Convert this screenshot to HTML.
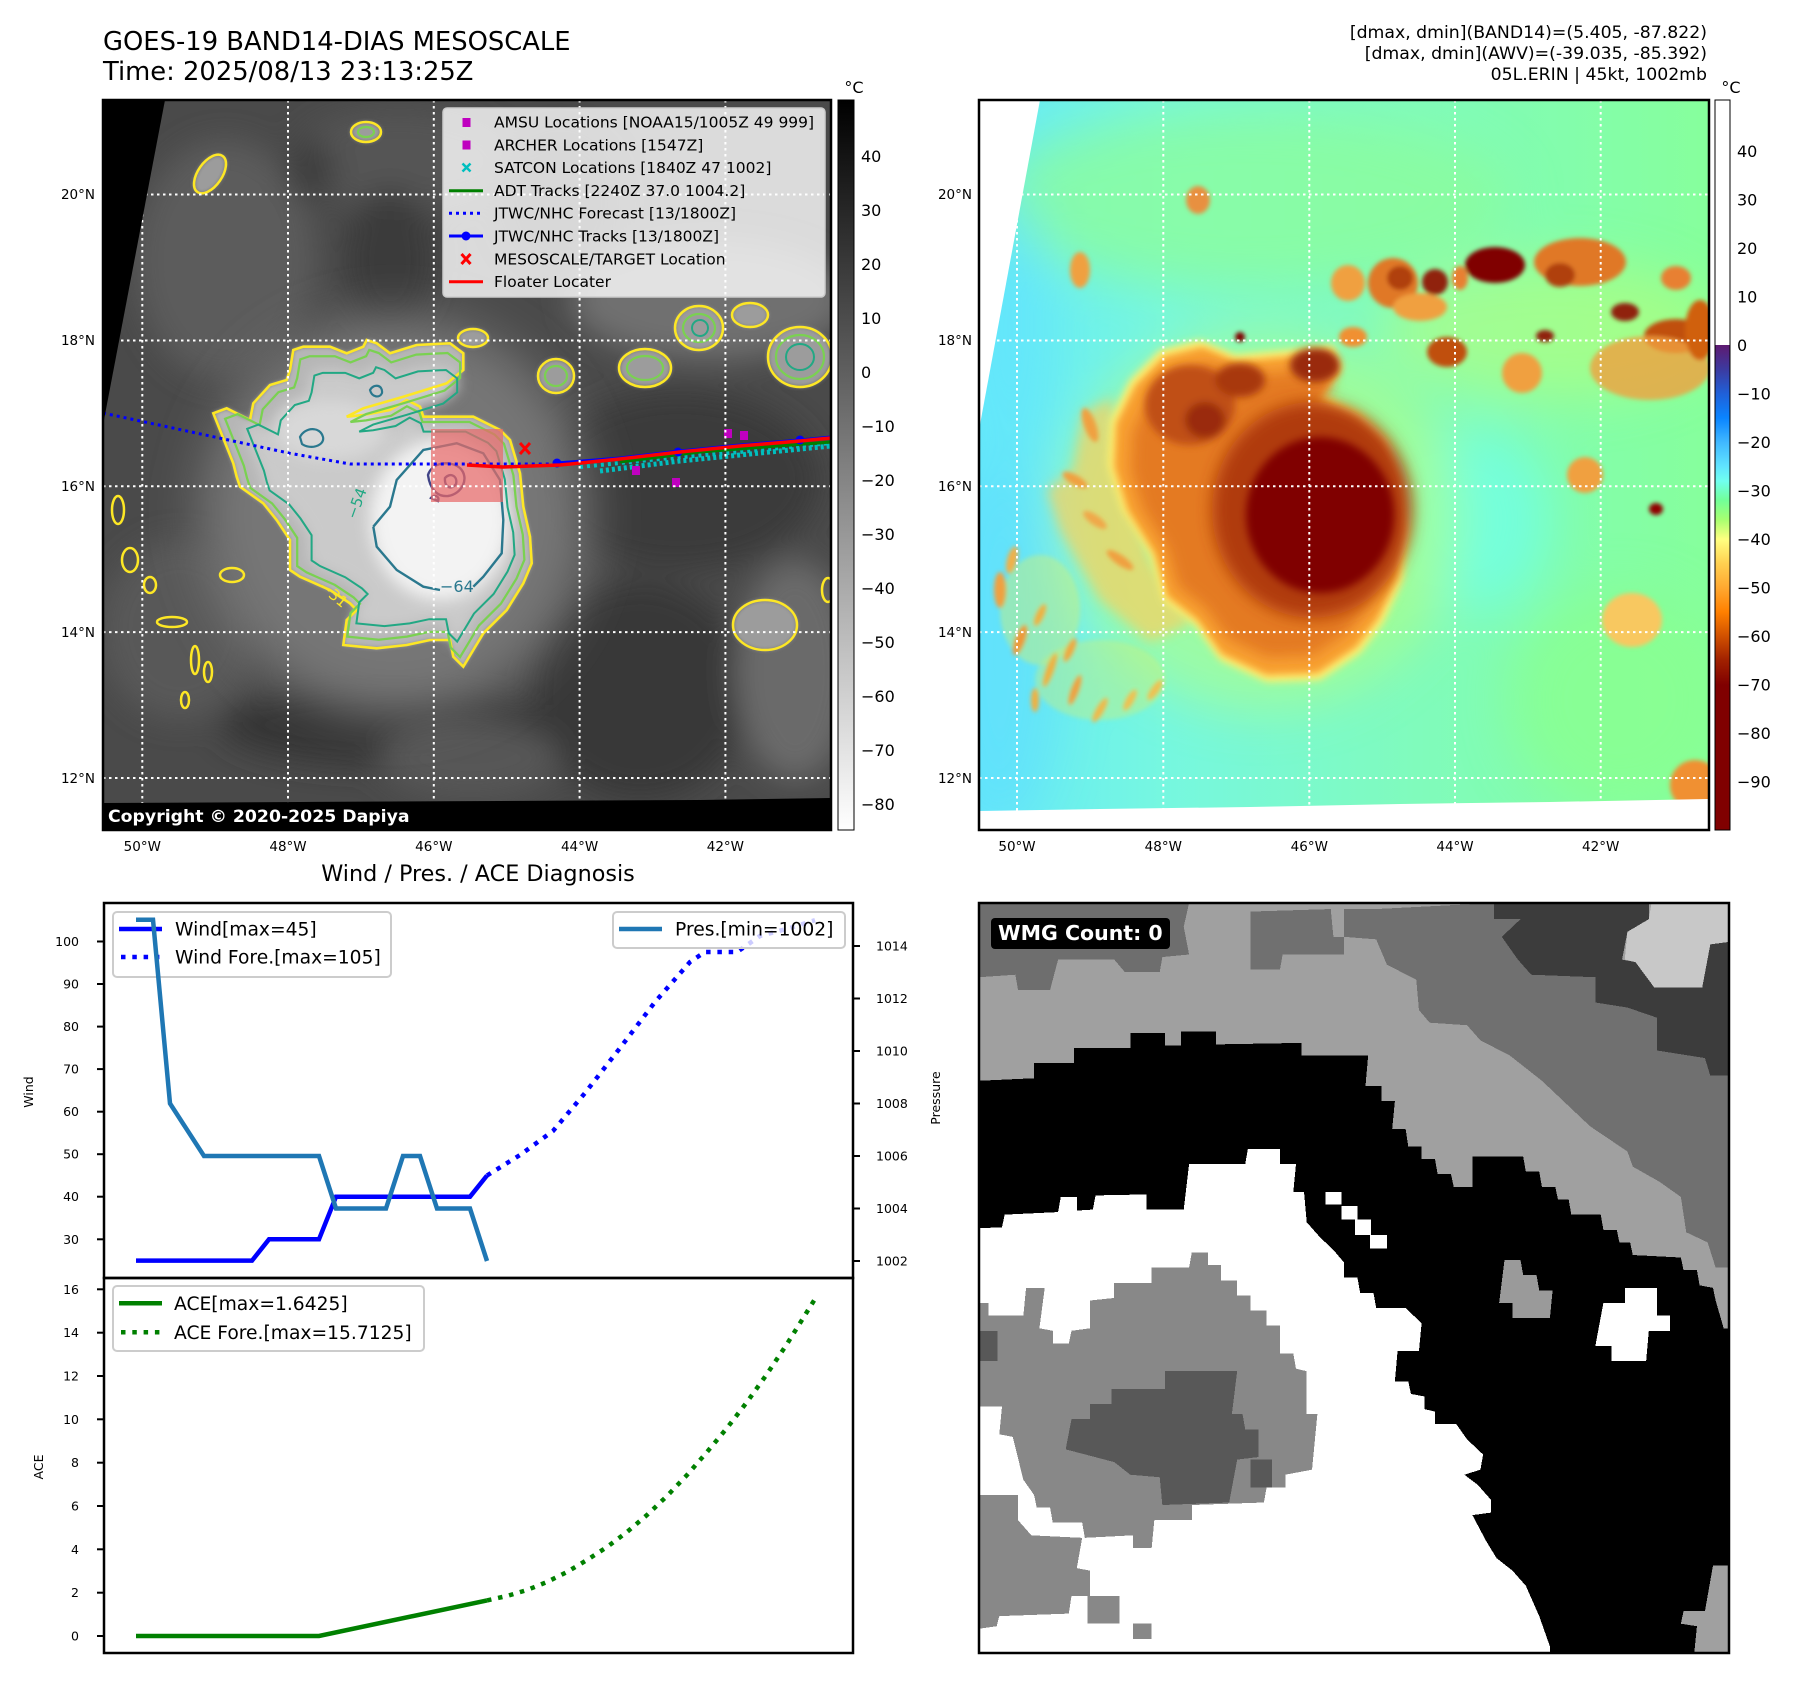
<!DOCTYPE html>
<html><head><meta charset="utf-8"><style>
html,body{margin:0;padding:0;background:#fff;}
svg{display:block;font-family:"DejaVu Sans","Liberation Sans",sans-serif;}
</style></head><body>
<svg width="1797" height="1690" viewBox="0 0 1797 1690">
<defs>
<filter id="b2" x="-50%" y="-50%" width="200%" height="200%"><feGaussianBlur stdDeviation="2"/></filter>
<filter id="b4" x="-50%" y="-50%" width="200%" height="200%"><feGaussianBlur stdDeviation="4"/></filter>
<filter id="b6" x="-50%" y="-50%" width="200%" height="200%"><feGaussianBlur stdDeviation="6"/></filter>
<filter id="b8" x="-50%" y="-50%" width="200%" height="200%"><feGaussianBlur stdDeviation="8"/></filter>
<filter id="b15" x="-50%" y="-50%" width="200%" height="200%"><feGaussianBlur stdDeviation="15"/></filter>
<filter id="b25" x="-50%" y="-50%" width="200%" height="200%"><feGaussianBlur stdDeviation="25"/></filter>
<clipPath id="cpL"><rect x="103" y="100" width="728" height="730"/></clipPath>
<clipPath id="cpR"><rect x="979" y="100" width="730" height="730"/></clipPath>
<linearGradient id="cbL" x1="0" y1="0" x2="0" y2="1"><stop offset="0" stop-color="#000"/><stop offset="1" stop-color="#fff"/></linearGradient>
<linearGradient id="cbR" x1="0" y1="0" x2="0" y2="1">
<stop offset="0" stop-color="#fff"/><stop offset="0.3355" stop-color="#fff"/>
<stop offset="0.3356" stop-color="#5e1a70"/><stop offset="0.3689" stop-color="#3c3aa0"/>
<stop offset="0.4022" stop-color="#2060d8"/><stop offset="0.4355" stop-color="#0a84ff"/>
<stop offset="0.4687" stop-color="#40b8ff"/><stop offset="0.5019" stop-color="#60e4ff"/>
<stop offset="0.5219" stop-color="#70fff0"/><stop offset="0.5485" stop-color="#72ff98"/>
<stop offset="0.5752" stop-color="#a8ff70"/><stop offset="0.6018" stop-color="#ffff80"/>
<stop offset="0.6351" stop-color="#ffd050"/><stop offset="0.6684" stop-color="#ffa830"/>
<stop offset="0.7015" stop-color="#ff8000"/><stop offset="0.7348" stop-color="#d05000"/>
<stop offset="0.7681" stop-color="#a02000"/><stop offset="0.8014" stop-color="#800000"/>
<stop offset="1" stop-color="#800000"/></linearGradient>
<linearGradient id="bgR" x1="0" y1="0" x2="1" y2="0">
<stop offset="0" stop-color="#66eaf8"/><stop offset="0.25" stop-color="#76f7e0"/>
<stop offset="0.6" stop-color="#80fbbc"/><stop offset="1" stop-color="#86ff9c"/></linearGradient>
<path id="stormL" d="M233.3,463.3 L213.3,413.3 L226.7,408.3 L250,420 L253.3,403.3 L270,385 L286.7,380 L290,370 L293.3,350 L303.3,346.7 L330,346.7 L346.7,353.3 L363.3,346.7 L366.7,340 L376.7,343.3 L390,353.3 L416.7,345 L450,343.3 L463.3,353.3 L463.3,370 L446.7,383.3 L403.3,396.7 L363.3,408.3 L346.7,416.7 L363.3,415 L390,410 L406.7,400 L420,406.7 L423.3,416.7 L473.3,416.7 L500,430 L510,440 L520,473.3 L523.3,506.7 L530,536.7 L531.7,563.3 L523.3,583.3 L506.7,610 L483.3,633.3 L473.3,650 L463.3,666.7 L453.3,656.7 L450,640 L430,640 L406.7,645 L376.7,648.3 L343.3,645 L346.7,620 L356.7,610 L350,603.3 L330,590 L300,576.7 L290,570 L290,540 L276.7,520 L263.3,503.3 L240,486.7 L236.7,476.7 Z"/>
<path id="stormR" d="M1110,420 L1130,380 L1160,350 L1200,340 L1235,355 L1290,350 L1333,345 L1343,367 L1320,393 L1360,413 L1387,440 L1400,480 L1408,530 L1403,580 L1383,623 L1360,653 L1320,680 L1267,682 L1220,660 L1195,625 L1163,600 L1150,555 L1122,510 L1108,465 Z"/>
</defs>
<rect width="1797" height="1690" fill="#fff"/>

<!-- Titles -->
<text x="103" y="50" font-size="25.8" fill="#000">GOES-19 BAND14-DIAS MESOSCALE</text>
<text x="103" y="80" font-size="25.8" fill="#000">Time: 2025/08/13 23:13:25Z</text>
<g font-size="17.3" text-anchor="end" fill="#000">
<text x="1707" y="38">[dmax, dmin](BAND14)=(5.405, -87.822)</text>
<text x="1707" y="59">[dmax, dmin](AWV)=(-39.035, -85.392)</text>
<text x="1707" y="80">05L.ERIN | 45kt, 1002mb</text>
</g>

<!-- ============ LEFT MAP ============ -->
<g clip-path="url(#cpL)">
<rect x="103" y="100" width="728" height="730" fill="#4a4a4a"/>
<g filter="url(#b15)">
<ellipse cx="225" cy="260" rx="90" ry="120" fill="#5c5c5c"/>
<ellipse cx="400" cy="160" rx="110" ry="50" fill="#555"/>
<ellipse cx="390" cy="260" rx="45" ry="70" fill="#3a3a3a"/>
<ellipse cx="310" cy="170" rx="25" ry="30" fill="#3c3c3c"/>
<ellipse cx="560" cy="200" rx="60" ry="70" fill="#3e3e3e"/>
<ellipse cx="680" cy="480" rx="140" ry="90" fill="#3a3a3a"/>
<ellipse cx="640" cy="690" rx="110" ry="110" fill="#393939"/>
<ellipse cx="795" cy="670" rx="60" ry="110" fill="#6a6a6a"/>
<ellipse cx="180" cy="630" rx="80" ry="90" fill="#595959"/>
<ellipse cx="380" cy="725" rx="160" ry="40" fill="#353535"/>
<ellipse cx="470" cy="760" rx="90" ry="40" fill="#575757"/>
<ellipse cx="710" cy="300" rx="140" ry="60" fill="#707070"/>
</g>
<ellipse cx="395" cy="515" rx="195" ry="200" fill="#767676" filter="url(#b25)"/>
<!-- NE band clouds -->
<g filter="url(#b2)" fill="#9c9c9c">
<ellipse cx="556" cy="376" rx="18" ry="17"/>
<ellipse cx="645" cy="368" rx="26" ry="19"/>
<ellipse cx="699" cy="328" rx="24" ry="22"/>
<ellipse cx="750" cy="315" rx="18" ry="12"/>
<ellipse cx="800" cy="357" rx="32" ry="30"/>
<ellipse cx="473" cy="338" rx="15" ry="9"/>
<ellipse cx="765" cy="625" rx="32" ry="25"/>
<ellipse cx="210" cy="174" rx="12" ry="22" transform="rotate(35 210 174)"/>
<ellipse cx="366" cy="132" rx="15" ry="10"/>
</g>
<g fill="none" stroke="#fde725" stroke-width="2.5">
<ellipse cx="556" cy="376" rx="18" ry="17"/>
<ellipse cx="645" cy="368" rx="26" ry="19"/>
<ellipse cx="699" cy="328" rx="24" ry="22"/>
<ellipse cx="750" cy="315" rx="18" ry="12"/>
<ellipse cx="800" cy="357" rx="32" ry="30"/>
<ellipse cx="473" cy="338" rx="15" ry="9"/>
<ellipse cx="765" cy="625" rx="32" ry="25"/>
<ellipse cx="210" cy="174" rx="12" ry="22" transform="rotate(35 210 174)"/>
<ellipse cx="366" cy="132" rx="15" ry="10"/>
<ellipse cx="130" cy="560" rx="8" ry="12"/>
<ellipse cx="172" cy="622" rx="15" ry="5"/>
<ellipse cx="195" cy="660" rx="4" ry="14"/>
<ellipse cx="208" cy="672" rx="4" ry="10"/>
<ellipse cx="150" cy="585" rx="6" ry="8"/>
<ellipse cx="118" cy="510" rx="6" ry="14"/>
<ellipse cx="185" cy="700" rx="4" ry="8"/>
<ellipse cx="232" cy="575" rx="12" ry="7"/>
<ellipse cx="828" cy="590" rx="6" ry="12"/>
</g>
<g fill="none" stroke="#7ad151" stroke-width="2.2">
<ellipse cx="556" cy="376" rx="11" ry="10"/>
<ellipse cx="645" cy="368" rx="18" ry="12"/>
<ellipse cx="699" cy="328" rx="16" ry="14"/>
<ellipse cx="800" cy="357" rx="24" ry="22"/>
<ellipse cx="366" cy="132" rx="8" ry="5"/>
</g>
<g fill="none" stroke="#22a884" stroke-width="2">
<ellipse cx="700" cy="328" rx="8" ry="8"/>
<ellipse cx="800" cy="357" rx="14" ry="13"/>
</g>
<!-- storm -->
<use href="#stormL" fill="#b6b6b6" filter="url(#b2)"/>
<use href="#stormL" fill="#cacaca" filter="url(#b8)" transform="translate(420 510) scale(0.86) translate(-420 -510)"/>
<ellipse cx="330" cy="430" rx="55" ry="30" fill="#d8d8d8" filter="url(#b8)"/>
<ellipse cx="440" cy="520" rx="70" ry="80" fill="#f3f3f3" filter="url(#b8)"/>
<use href="#stormL" fill="none" stroke="#fde725" stroke-width="2.6"/>
<use href="#stormL" fill="none" stroke="#7ad151" stroke-width="2.4" transform="translate(410 505) scale(0.94) translate(-410 -505)"/>
<use href="#stormL" fill="none" stroke="#22a884" stroke-width="2.4" transform="translate(425 510) scale(0.84) translate(-425 -510)"/>
<path d="M373.3,526.7 L390,506.7 L396.7,480 L423.3,450 L456.7,443.3 L483.3,453.3 L500,480 L503.3,520 L501.7,553.3 L483.3,576.7 L473.3,586.7 M440,590 L423.3,586.7 L396.7,570 L376.7,546.7 L373.3,526.7" fill="none" stroke="#2a788e" stroke-width="2.4"/>
<path d="M300,437 C305,427 320,426 323,437 C325,446 310,450 302,444 Z M370,390 C374,383 383,385 382,393 C380,398 372,398 370,390 Z" fill="none" stroke="#2a788e" stroke-width="2.2"/>
<path d="M428,475 C432,462 450,460 460,468 C470,478 462,494 448,496 C438,497 430,490 428,475 Z M445,478 C450,472 458,476 456,484 C452,490 444,488 445,478 Z M431,498 C434,494 440,496 438,501 Z" fill="none" stroke="#414487" stroke-width="2.4"/>
<text x="440" y="592" font-size="16" fill="#2a788e">−64</text>
<text x="0" y="0" font-size="15" fill="#fde725" transform="translate(318 588) rotate(40)">−31</text>
<text x="0" y="0" font-size="15" fill="#22a884" transform="translate(356 520) rotate(-70)">−54</text>
<!-- pink box -->
<rect x="431" y="429" width="72" height="73" fill="#e86a6a" fill-opacity="0.72"/>
<!-- tracks -->
<polyline points="103,413 190,431.7 290,453.3 350,464 560,464" fill="none" stroke="#0000ff" stroke-width="3" stroke-dasharray="3 4"/>
<polyline points="600,471 680,461 760,453 831,446" fill="none" stroke="#00bfbf" stroke-width="5" stroke-dasharray="3 3"/>
<polyline points="580,467 660,459 740,452 831,443" fill="none" stroke="#00bfbf" stroke-width="4" stroke-dasharray="3 4"/>
<polyline points="620,462 700,452 831,442" fill="none" stroke="#008000" stroke-width="3"/>
<polyline points="557,463 620,458 680,451 740,445 800,440 831,437" fill="none" stroke="#0000ff" stroke-width="3"/>
<circle cx="557" cy="463" r="4.5" fill="#0000ff"/><circle cx="678" cy="452" r="4.5" fill="#0000ff"/><circle cx="800" cy="440" r="4.5" fill="#0000ff"/>
<polyline points="467,465 503,467 560,465 620,459 680,452 740,446 800,441 831,438" fill="none" stroke="#ff0000" stroke-width="3.5"/>
<g fill="#bf00bf"><rect x="724" y="429" width="8" height="9"/><rect x="740" y="431" width="8" height="9"/><rect x="632" y="466" width="8" height="9"/><rect x="672" y="478" width="8" height="9"/></g>
<path d="M520,443 L530,454 M530,443 L520,454" stroke="#ff0000" stroke-width="3"/>
<!-- gridlines -->
<g stroke="#fff" stroke-width="2" stroke-dasharray="2.5 3.5">
<line x1="103" y1="194.5" x2="831" y2="194.5"/><line x1="103" y1="340.5" x2="831" y2="340.5"/>
<line x1="103" y1="486.3" x2="831" y2="486.3"/><line x1="103" y1="632.1" x2="831" y2="632.1"/>
<line x1="103" y1="778" x2="831" y2="778"/>
<line x1="142.3" y1="100" x2="142.3" y2="830"/><line x1="288" y1="100" x2="288" y2="830"/>
<line x1="433.8" y1="100" x2="433.8" y2="830"/><line x1="579.6" y1="100" x2="579.6" y2="830"/>
<line x1="725.4" y1="100" x2="725.4" y2="830"/>
</g>
<polygon points="103,100 165,100 103,425" fill="#000"/>
<polygon points="103,803 300,802 500,801 700,800 831,798 831,830 103,830" fill="#000"/>
</g>
<rect x="103" y="803" width="307" height="27" fill="#000"/>
<text x="108" y="822" font-size="17.3" font-weight="bold" fill="#fff">Copyright © 2020-2025 Dapiya</text>
<rect x="103" y="100" width="728" height="730" fill="none" stroke="#000" stroke-width="2.5"/>
<!-- legend -->
<rect x="443" y="108" width="382" height="189" rx="4" fill="#fff" fill-opacity="0.8" stroke="#cccccc" stroke-width="1.5"/>
<g font-size="15.5" fill="#000">
<text x="494" y="127.5">AMSU Locations [NOAA15/1005Z 49 999]</text>
<text x="494" y="150.3">ARCHER Locations [1547Z]</text>
<text x="494" y="173">SATCON Locations [1840Z 47 1002]</text>
<text x="494" y="196">ADT Tracks [2240Z 37.0 1004.2]</text>
<text x="494" y="218.6">JTWC/NHC Forecast [13/1800Z]</text>
<text x="494" y="241.3">JTWC/NHC Tracks [13/1800Z]</text>
<text x="494" y="264.3">MESOSCALE/TARGET Location</text>
<text x="494" y="287">Floater Locater</text>
</g>
<rect x="462.5" y="118" width="8" height="9" fill="#bf00bf"/>
<rect x="462.5" y="140.5" width="8" height="9" fill="#bf00bf"/>
<path d="M462.5,163.5 L470.5,171.5 M470.5,163.5 L462.5,171.5" stroke="#00bfbf" stroke-width="2.5"/>
<line x1="449" y1="190.7" x2="483" y2="190.7" stroke="#008000" stroke-width="3"/>
<line x1="449" y1="213.3" x2="483" y2="213.3" stroke="#0000ff" stroke-width="3" stroke-dasharray="3 4"/>
<line x1="449" y1="236" x2="483" y2="236" stroke="#0000ff" stroke-width="3"/><circle cx="466" cy="236" r="4.5" fill="#0000ff"/>
<path d="M461.5,254 L470.5,264 M470.5,254 L461.5,264" stroke="#ff0000" stroke-width="3"/>
<line x1="449" y1="281.7" x2="483" y2="281.7" stroke="#ff0000" stroke-width="3"/>
<!-- left map tick labels -->
<g font-size="13.5" fill="#000" text-anchor="end">
<text x="95" y="199">20°N</text><text x="95" y="345">18°N</text><text x="95" y="491">16°N</text><text x="95" y="637">14°N</text><text x="95" y="783">12°N</text>
</g>
<g font-size="13.5" fill="#000" text-anchor="middle">
<text x="142.3" y="851">50°W</text><text x="288" y="851">48°W</text><text x="433.8" y="851">46°W</text><text x="579.6" y="851">44°W</text><text x="725.4" y="851">42°W</text>
</g>
<!-- left colorbar -->
<rect x="838" y="100" width="16" height="730" fill="url(#cbL)" stroke="#000" stroke-width="1"/>
<text x="854" y="93" font-size="16" text-anchor="middle">°C</text>
<g font-size="16" fill="#000">
<text x="861" y="162">40</text><text x="861" y="216">30</text><text x="861" y="270">20</text><text x="861" y="324">10</text><text x="861" y="378">0</text>
<text x="861" y="432">−10</text><text x="861" y="486">−20</text><text x="861" y="540">−30</text><text x="861" y="594">−40</text><text x="861" y="648">−50</text>
<text x="861" y="702">−60</text><text x="861" y="756">−70</text><text x="861" y="810">−80</text>
</g>

<!-- ============ RIGHT MAP ============ -->
<g clip-path="url(#cpR)">
<rect x="979" y="100" width="730" height="730" fill="url(#bgR)"/>
<g filter="url(#b25)">
<ellipse cx="1250" cy="200" rx="260" ry="90" fill="#8cfc9c" opacity="0.8"/>
<ellipse cx="1000" cy="640" rx="60" ry="190" fill="#5edcff" opacity="0.6"/>
<ellipse cx="1010" cy="330" rx="40" ry="140" fill="#60e2ff" opacity="0.6"/>
<ellipse cx="1620" cy="700" rx="110" ry="110" fill="#8aff90" opacity="0.8"/>
<ellipse cx="1480" cy="520" rx="70" ry="90" fill="#70ffe6" opacity="0.8"/>
<ellipse cx="1260" cy="520" rx="200" ry="190" fill="#c0ff70" opacity="0.5"/>
<ellipse cx="1550" cy="330" rx="170" ry="70" fill="#c0ff70" opacity="0.5"/>
</g>
<!-- SW streaks -->
<g filter="url(#b2)">
<ellipse cx="1040" cy="610" rx="40" ry="55" fill="#d0f070" opacity="0.45"/>
<ellipse cx="1100" cy="680" rx="65" ry="40" fill="#d0f070" opacity="0.4"/>
<ellipse cx="1000" cy="590" rx="6" ry="18" fill="#f0a040"/>
<ellipse cx="1012" cy="560" rx="5" ry="14" fill="#f0b048" transform="rotate(15 1012 560)"/>
<ellipse cx="1020" cy="640" rx="5" ry="16" fill="#f09838" transform="rotate(20 1020 640)"/>
<ellipse cx="1040" cy="615" rx="4" ry="12" fill="#f0b040" transform="rotate(25 1040 615)"/>
<ellipse cx="1050" cy="670" rx="4" ry="18" fill="#f0b040" transform="rotate(20 1050 670)"/>
<ellipse cx="1075" cy="690" rx="4" ry="16" fill="#f0a040" transform="rotate(20 1075 690)"/>
<ellipse cx="1100" cy="710" rx="4" ry="14" fill="#f0b848" transform="rotate(30 1100 710)"/>
<ellipse cx="1035" cy="700" rx="4" ry="12" fill="#f0b040"/>
<ellipse cx="1130" cy="700" rx="4" ry="12" fill="#f0c050" transform="rotate(30 1130 700)"/>
<ellipse cx="1155" cy="690" rx="4" ry="12" fill="#f0c050" transform="rotate(35 1155 690)"/>
<ellipse cx="1070" cy="650" rx="4" ry="13" fill="#f0a840" transform="rotate(25 1070 650)"/>
<ellipse cx="1632" cy="620" rx="30" ry="27" fill="#f8c860"/>
<ellipse cx="1585" cy="475" rx="18" ry="18" fill="#f0a040"/>
<ellipse cx="1656" cy="509" rx="7" ry="6" fill="#900000"/>
<ellipse cx="1695" cy="785" rx="25" ry="25" fill="#f09030"/>
</g>
<!-- storm -->
<polygon points="1083,413 1112,398 1122,470 1150,560 1192,622 1150,642 1100,600 1060,530 1047,490 1073,470" fill="#f8d060" opacity="0.7" filter="url(#b6)"/>
<g filter="url(#b2)">
<ellipse cx="1090" cy="425" rx="6" ry="18" fill="#f0a040" transform="rotate(-20 1090 425)"/>
<ellipse cx="1075" cy="480" rx="14" ry="5" fill="#f0a040" transform="rotate(30 1075 480)"/>
<ellipse cx="1095" cy="520" rx="14" ry="5" fill="#f0a848" transform="rotate(35 1095 520)"/>
<ellipse cx="1120" cy="560" rx="16" ry="5" fill="#f0a040" transform="rotate(35 1120 560)"/>
</g>
<use href="#stormR" fill="#fff070" filter="url(#b4)"/>
<use href="#stormR" fill="#f8a030" filter="url(#b4)" transform="translate(1260 510) scale(0.96) translate(-1260 -510)"/>
<use href="#stormR" fill="#e47a20" filter="url(#b8)" transform="translate(1270 505) scale(0.86) translate(-1270 -505)"/>
<g filter="url(#b4)">
<ellipse cx="1190" cy="405" rx="45" ry="40" fill="#c05018"/>
<ellipse cx="1205" cy="420" rx="20" ry="18" fill="#9a2a08"/>
<ellipse cx="1240" cy="380" rx="25" ry="17" fill="#a83810"/>
<ellipse cx="1315" cy="365" rx="25" ry="17" fill="#9a2a08"/>
</g>
<ellipse cx="1312" cy="510" rx="100" ry="108" fill="#b03a08" filter="url(#b8)"/>
<ellipse cx="1320" cy="515" rx="74" ry="78" fill="#800000" filter="url(#b4)"/>
<!-- NE band -->
<g filter="url(#b2)">
<ellipse cx="1348" cy="283" rx="17" ry="18" fill="#f0a040"/>
<ellipse cx="1393" cy="283" rx="25" ry="25" fill="#e07828"/>
<ellipse cx="1400" cy="278" rx="13" ry="12" fill="#b04010"/>
<ellipse cx="1435" cy="282" rx="13" ry="13" fill="#902010"/>
<ellipse cx="1460" cy="278" rx="8" ry="12" fill="#e88030"/>
<ellipse cx="1495" cy="265" rx="30" ry="18" fill="#800000"/>
<ellipse cx="1420" cy="307" rx="27" ry="14" fill="#f0a040"/>
<ellipse cx="1447" cy="352" rx="20" ry="15" fill="#c05010"/>
<ellipse cx="1353" cy="337" rx="14" ry="10" fill="#f09030"/>
<ellipse cx="1580" cy="262" rx="46" ry="24" fill="#e07828"/>
<ellipse cx="1560" cy="275" rx="15" ry="12" fill="#b04010"/>
<ellipse cx="1676" cy="278" rx="15" ry="12" fill="#e88030"/>
<ellipse cx="1625" cy="312" rx="14" ry="9" fill="#902010"/>
<ellipse cx="1676" cy="336" rx="32" ry="17" fill="#c05010"/>
<ellipse cx="1545" cy="336" rx="9" ry="6" fill="#902010"/>
<ellipse cx="1650" cy="368" rx="60" ry="32" fill="#f0a040" opacity="0.8"/>
<ellipse cx="1522" cy="373" rx="20" ry="20" fill="#f0a040"/>
<ellipse cx="1700" cy="330" rx="15" ry="30" fill="#d06010"/>
<ellipse cx="1240" cy="337" rx="5" ry="5" fill="#800000"/>
<ellipse cx="1198" cy="200" rx="12" ry="14" fill="#e89040"/>
<ellipse cx="1080" cy="270" rx="10" ry="18" fill="#f0a040"/>
</g>
<g stroke="#fff" stroke-width="2" stroke-dasharray="2.5 3.5">
<line x1="979" y1="194.5" x2="1709" y2="194.5"/><line x1="979" y1="340.5" x2="1709" y2="340.5"/>
<line x1="979" y1="486.3" x2="1709" y2="486.3"/><line x1="979" y1="632.1" x2="1709" y2="632.1"/>
<line x1="979" y1="778" x2="1709" y2="778"/>
<line x1="1017" y1="100" x2="1017" y2="830"/><line x1="1163.3" y1="100" x2="1163.3" y2="830"/>
<line x1="1309.3" y1="100" x2="1309.3" y2="830"/><line x1="1455" y1="100" x2="1455" y2="830"/>
<line x1="1600.7" y1="100" x2="1600.7" y2="830"/>
</g>
<polygon points="979,100 1040,100 979,430" fill="#fff"/>
<polygon points="979,811 1100,809 1250,807 1400,804 1550,802 1709,799 1709,830 979,830" fill="#fff"/>
</g>
<rect x="979" y="100" width="730" height="730" fill="none" stroke="#000" stroke-width="2.5"/>
<g font-size="13.5" fill="#000" text-anchor="end">
<text x="972" y="199">20°N</text><text x="972" y="345">18°N</text><text x="972" y="491">16°N</text><text x="972" y="637">14°N</text><text x="972" y="783">12°N</text>
</g>
<g font-size="13.5" fill="#000" text-anchor="middle">
<text x="1017" y="851">50°W</text><text x="1163.3" y="851">48°W</text><text x="1309.3" y="851">46°W</text><text x="1455" y="851">44°W</text><text x="1600.7" y="851">42°W</text>
</g>
<rect x="1715" y="100" width="15" height="730" fill="url(#cbR)" stroke="#000" stroke-width="1"/>
<text x="1731" y="93" font-size="16" text-anchor="middle">°C</text>
<g font-size="16" fill="#000">
<text x="1737" y="157">40</text><text x="1737" y="205.5">30</text><text x="1737" y="254">20</text><text x="1737" y="302.5">10</text><text x="1737" y="351">0</text>
<text x="1737" y="399.5">−10</text><text x="1737" y="448">−20</text><text x="1737" y="496.5">−30</text><text x="1737" y="545">−40</text><text x="1737" y="593.5">−50</text>
<text x="1737" y="642">−60</text><text x="1737" y="690.5">−70</text><text x="1737" y="739">−80</text><text x="1737" y="787.5">−90</text>
</g>

<!-- ============ WIND / PRES / ACE ============ -->
<text x="478" y="881" font-size="22.3" text-anchor="middle">Wind / Pres. / ACE Diagnosis</text>
<polyline points="136,1260.6 252,1260.6 269,1239.3 319,1239.3 336,1196.7 470,1196.7 487,1175.5" fill="none" stroke="#0000ff" stroke-width="4.5"/>
<polyline points="487,1175.5 520,1155 553,1131 585,1093 620,1048 655,1002 690,962 705,952 737,952 760,936 790,928 815,920.2" fill="none" stroke="#0000ff" stroke-width="4.5" stroke-dasharray="4.5 6.8"/>
<rect x="113" y="912" width="278" height="65" rx="4" fill="#fff" fill-opacity="0.8" stroke="#cccccc" stroke-width="2"/>
<line x1="119" y1="929" x2="162" y2="929" stroke="#0000ff" stroke-width="4.5"/>
<line x1="121" y1="957" x2="162" y2="957" stroke="#0000ff" stroke-width="4.5" stroke-dasharray="4.5 6.8"/>
<text x="175" y="935.5" font-size="18.7">Wind[max=45]</text>
<text x="175" y="963.5" font-size="18.7">Wind Fore.[max=105]</text>
<polyline points="136,919.75 153,919.75 170,1103.5 204,1156 319,1156 336,1208.5 386,1208.5 403,1156 420,1156 437,1208.5 470,1208.5 487,1261" fill="none" stroke="#1f77b4" stroke-width="4.5"/>
<rect x="613" y="912" width="232" height="36" rx="4" fill="#fff" fill-opacity="0.8" stroke="#cccccc" stroke-width="2"/>
<line x1="619" y1="929" x2="662" y2="929" stroke="#1f77b4" stroke-width="4.5"/>
<text x="675" y="935.5" font-size="18.7">Pres.[min=1002]</text>
<rect x="104" y="903" width="749" height="375" fill="none" stroke="#000" stroke-width="2.5"/>
<g stroke="#000" stroke-width="2">
<line x1="97" y1="941.5" x2="104" y2="941.5"/><line x1="97" y1="984" x2="104" y2="984"/><line x1="97" y1="1026.6" x2="104" y2="1026.6"/>
<line x1="97" y1="1069.1" x2="104" y2="1069.1"/><line x1="97" y1="1111.7" x2="104" y2="1111.7"/><line x1="97" y1="1154.2" x2="104" y2="1154.2"/>
<line x1="97" y1="1196.7" x2="104" y2="1196.7"/><line x1="97" y1="1239.3" x2="104" y2="1239.3"/>
<line x1="853" y1="946" x2="860" y2="946"/><line x1="853" y1="998.5" x2="860" y2="998.5"/><line x1="853" y1="1051" x2="860" y2="1051"/>
<line x1="853" y1="1103.5" x2="860" y2="1103.5"/><line x1="853" y1="1156" x2="860" y2="1156"/><line x1="853" y1="1208.5" x2="860" y2="1208.5"/>
<line x1="853" y1="1261" x2="860" y2="1261"/>
</g>
<g font-size="12.5" text-anchor="end">
<text x="79" y="946">100</text><text x="79" y="988.5">90</text><text x="79" y="1031">80</text><text x="79" y="1073.6">70</text>
<text x="79" y="1116.2">60</text><text x="79" y="1158.7">50</text><text x="79" y="1201.2">40</text><text x="79" y="1243.8">30</text>
</g>
<g font-size="12.5">
<text x="876" y="950.5">1014</text><text x="876" y="1003">1012</text><text x="876" y="1055.5">1010</text><text x="876" y="1108">1008</text>
<text x="876" y="1160.5">1006</text><text x="876" y="1213">1004</text><text x="876" y="1265.5">1002</text>
</g>
<text x="0" y="0" font-size="12.5" text-anchor="middle" transform="translate(33 1092) rotate(-90)">Wind</text>
<text x="0" y="0" font-size="12.5" text-anchor="middle" transform="translate(940 1098) rotate(-90)">Pressure</text>
<!-- ACE -->
<polyline points="136,1636 319,1636 487,1600.4" fill="none" stroke="#008000" stroke-width="4.5"/>
<polyline points="487,1600.4 507,1596 527,1590 547,1582 567,1572 587,1560 607,1547 627,1532 647,1515 667,1496 687,1475 707,1452 727,1428 747,1402 767,1374 787,1344 815,1299" fill="none" stroke="#008000" stroke-width="4.5" stroke-dasharray="4.5 6.8"/>
<rect x="113" y="1286" width="311" height="65" rx="4" fill="#fff" fill-opacity="0.8" stroke="#cccccc" stroke-width="2"/>
<line x1="119" y1="1303.3" x2="162" y2="1303.3" stroke="#008000" stroke-width="4.5"/>
<line x1="121" y1="1332.3" x2="162" y2="1332.3" stroke="#008000" stroke-width="4.5" stroke-dasharray="4.5 6.8"/>
<text x="174" y="1309.8" font-size="18.7">ACE[max=1.6425]</text>
<text x="174" y="1338.8" font-size="18.7">ACE Fore.[max=15.7125]</text>
<rect x="104" y="1278" width="749" height="375" fill="none" stroke="#000" stroke-width="2.5"/>
<g stroke="#000" stroke-width="2">
<line x1="97" y1="1636" x2="104" y2="1636"/><line x1="97" y1="1592.7" x2="104" y2="1592.7"/><line x1="97" y1="1549.3" x2="104" y2="1549.3"/>
<line x1="97" y1="1506" x2="104" y2="1506"/><line x1="97" y1="1462.7" x2="104" y2="1462.7"/><line x1="97" y1="1419.3" x2="104" y2="1419.3"/>
<line x1="97" y1="1376" x2="104" y2="1376"/><line x1="97" y1="1332.7" x2="104" y2="1332.7"/><line x1="97" y1="1289.3" x2="104" y2="1289.3"/>
</g>
<g font-size="12.5" text-anchor="end">
<text x="79" y="1640.5">0</text><text x="79" y="1597.2">2</text><text x="79" y="1553.8">4</text><text x="79" y="1510.5">6</text>
<text x="79" y="1467.2">8</text><text x="79" y="1423.8">10</text><text x="79" y="1380.5">12</text><text x="79" y="1337.2">14</text><text x="79" y="1293.8">16</text>
</g>
<text x="0" y="0" font-size="12.5" text-anchor="middle" transform="translate(43 1467) rotate(-90)">ACE</text>

<!-- ============ BOTTOM RIGHT (WMG) ============ -->
<svg x="979" y="903" width="750" height="750" viewBox="37 28 1403 1485" preserveAspectRatio="none" shape-rendering="crispEdges">
<rect x="37" y="28" width="1403" height="1485" fill="#a0a0a0"/>
<polygon points="37,28 430,28 420,75 430,130 380,135 375,165 310,165 290,140 185,140 170,200 110,200 105,170 37,175" fill="#6e6e6e"/>
<polygon points="545,45 695,40 700,95 720,95 720,130 605,130 600,160 545,160" fill="#707070"/>
<polygon points="780,40 1000,28 1000,60 1050,60 1015,95 1045,140 1070,170 1190,175 1190,225 1250,235 1305,255 1305,320 1395,335 1405,370 1440,370 1440,750 1415,750 1400,700 1360,680 1350,610 1310,580 1260,550 1250,520 1180,470 1120,410 1090,380 1030,330 975,300 950,270 880,265 860,240 855,180 800,150 780,100 720,95 720,40" fill="#707070"/>
<polygon points="1000,28 1290,28 1290,60 1250,85 1240,140 1265,145 1300,195 1390,195 1405,110 1440,105 1440,370 1405,370 1395,335 1305,320 1305,255 1250,235 1190,225 1190,175 1070,170 1045,140 1015,95 1050,60 1000,60" fill="#3c3c3c"/>
<polygon points="1295,28 1440,28 1440,105 1405,110 1390,195 1300,195 1265,145 1245,140 1250,85 1290,60" fill="#c8c8c8"/>
<polygon points="37,380 140,375 140,345 215,345 215,315 320,315 320,285 385,285 385,310 415,310 415,282 480,282 480,308 640,305 640,330 765,330 760,390 790,390 790,420 815,420 810,475 835,475 840,510 865,510 865,535 890,535 895,565 920,565 925,590 960,590 960,530 1055,530 1060,560 1085,560 1090,590 1115,590 1120,615 1140,615 1145,645 1200,645 1205,675 1230,675 1235,700 1255,700 1260,725 1350,730 1355,755 1380,755 1385,785 1410,790 1415,815 1440,815 1440,1513 37,1513" fill="#000"/>
<polygon points="37,672 80,670 85,645 185,640 190,610 220,610 220,637 250,635 255,607 350,605 350,635 420,635 430,545 535,545 540,515 600,515 600,545 630,545 625,600 645,600 650,660 675,690 700,715 720,740 720,770 745,770 750,800 775,800 780,830 835,830 865,860 860,915 820,915 815,975 840,975 845,1000 870,1005 870,1030 890,1035 890,1060 930,1060 950,1090 980,1120 975,1150 945,1160 970,1180 995,1210 995,1235 960,1240 985,1290 1005,1325 1035,1350 1060,1380 1085,1440 1105,1500 1105,1513 37,1513" fill="#fff"/>
<g fill="#fff"><rect x="685" y="600" width="30" height="25"/><rect x="715" y="628" width="30" height="27"/><rect x="740" y="655" width="30" height="30"/><rect x="768" y="685" width="32" height="27"/></g>
<polygon points="1245,790 1305,790 1305,845 1330,845 1330,875 1290,875 1285,935 1220,935 1220,905 1190,905 1205,820 1245,820" fill="#fff"/>
<polygon points="1020,735 1050,735 1055,765 1080,765 1085,795 1110,795 1105,850 1035,850 1035,820 1010,820" fill="#9a9a9a"/>
<polygon points="1410,1340 1440,1340 1440,1513 1375,1513 1380,1460 1350,1455 1355,1430 1395,1430" fill="#a0a0a0"/>
<polygon points="1415,750 1440,750 1440,870 1430,870 1415,815" fill="#a0a0a0"/>
<polygon points="37,820 55,820 55,845 120,845 125,790 160,790 150,870 175,875 175,900 205,900 210,875 245,870 245,815 290,810 290,780 360,780 360,750 430,750 435,720 465,720 465,745 490,745 490,775 520,775 520,805 545,805 545,835 575,835 575,865 600,865 600,920 625,920 630,950 650,955 650,1040 670,1040 660,1150 610,1160 610,1185 575,1185 570,1215 435,1220 435,1250 365,1250 360,1305 325,1305 325,1280 235,1285 230,1255 175,1255 170,1225 145,1225 140,1200 120,1170 100,1085 75,1080 80,1025 37,1025" fill="#888"/>
<polygon points="37,1200 110,1200 110,1250 135,1280 230,1285 220,1345 245,1350 245,1400 210,1400 205,1435 75,1440 70,1460 37,1465" fill="#888"/>
<rect x="240" y="1400" width="60" height="55" fill="#888"/>
<rect x="325" y="1455" width="35" height="30" fill="#888"/>
<polygon points="200,1105 210,1050 245,1050 245,1020 285,1020 285,990 385,990 385,955 520,955 510,1040 530,1040 535,1070 560,1070 560,1125 520,1130 505,1215 380,1220 375,1165 320,1160 290,1135 200,1110" fill="#585858"/>
<rect x="545" y="1130" width="40" height="55" fill="#585858"/>
<rect x="37" y="875" width="35" height="60" fill="#585858"/>
</svg>
<rect x="979" y="903" width="750" height="750" fill="none" stroke="#000" stroke-width="2.5"/>
<rect x="991" y="918" width="179" height="31" rx="4" fill="#000"/>
<text x="998" y="940" font-size="20.5" font-weight="bold" fill="#fff">WMG Count: 0</text>
</svg>
</body></html>
